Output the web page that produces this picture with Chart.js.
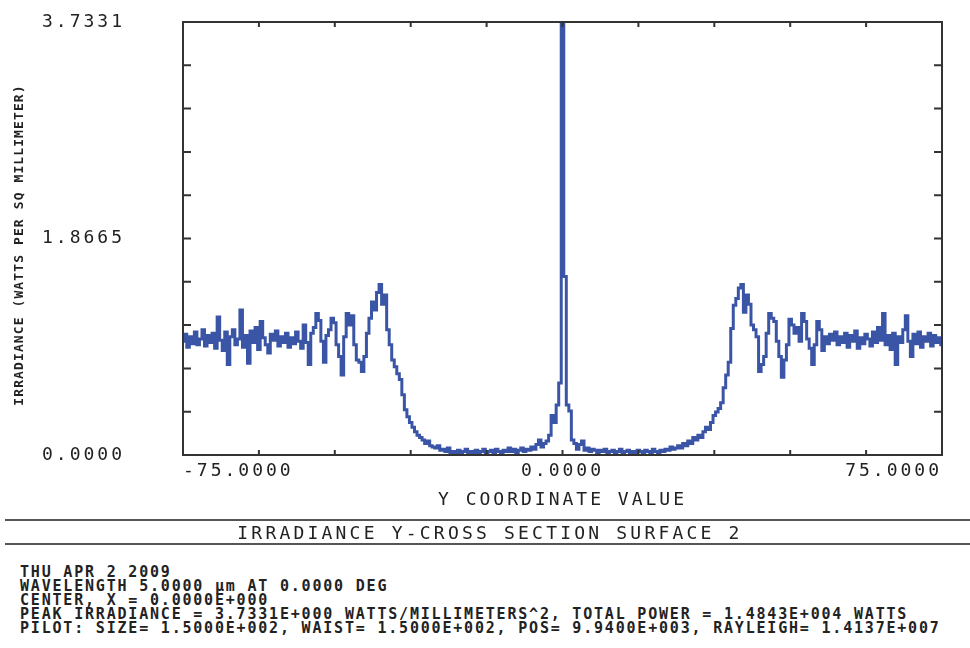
<!DOCTYPE html>
<html lang="en">
<head>
<meta charset="UTF-8">
<title>Irradiance Y-Cross Section</title>
<script src="https://cdn.jsdelivr.net/npm/chart.js"></script>
<style>
    body { margin: 0; background: #ffffff; width: 970px; height: 648px; overflow: hidden; position: relative; }
    #grafico { position: absolute; left: 0; top: 0; }
    .linha { position: absolute; left: 5px; right: 0; height: 2px; background: #555; }
    .titulo { position: absolute; left: 0; width: 980px; top: 522px; text-align: center;
        font: 18px "DejaVu Sans Mono"; letter-spacing: 3.2px; color: #222; line-height: 22px; }
    .info { position: absolute; left: 20px; top: 566px; font: bold 15px "DejaVu Sans Mono";
        letter-spacing: 1.8px; line-height: 13.9px; color: #222; white-space: pre; }
</style>
</head>
<body>
<canvas id="grafico" width="970" height="520"></canvas>
<div class="linha" style="top:519px"></div>
<div class="titulo">IRRADIANCE Y-CROSS SECTION SURFACE 2</div>
<div class="linha" style="top:543px"></div>
<div class="info">THU APR 2 2009
WAVELENGTH 5.0000 µm AT 0.0000 DEG
CENTER, X = 0.0000E+000
PEAK IRRADIANCE = 3.7331E+000 WATTS/MILLIMETERS^2, TOTAL POWER = 1.4843E+004 WATTS
PILOT: SIZE= 1.5000E+002, WAIST= 1.5000E+002, POS= 9.9400E+003, RAYLEIGH= 1.4137E+007</div>

<script>
    // y coordinate grid (mm)
    var xStart = -75;
    var xStep = 0.5;

    // irradiance, watts per sq mm
    var irradiance = [
        0.98, 1.04, 0.93, 1.02, 0.96, 1.06, 0.95, 1.00, 1.08, 0.94,
        1.03, 0.97, 1.05, 0.92, 1.19, 0.99, 0.90, 1.06, 0.78, 1.02,
        1.08, 0.95, 1.00, 1.25, 0.93, 1.03, 0.79, 1.07, 0.97, 1.10,
        0.91, 1.15, 1.01, 0.95, 0.88, 1.04, 0.99, 1.07, 0.94, 1.02,
        0.97, 1.05, 0.93, 1.01, 0.96, 1.06, 0.98, 0.92, 1.12, 0.97,
        0.78, 1.05, 1.10, 1.22, 1.16, 0.98, 0.80, 1.03, 1.08, 1.18,
        1.14, 0.95, 0.85, 0.69, 1.02, 1.22, 1.12, 1.20, 0.95, 0.82,
        0.80, 0.72, 0.85, 1.05, 1.18, 1.32, 1.25, 1.40, 1.47, 1.30,
        1.38, 1.08, 0.95, 0.82, 0.76, 0.70, 0.65, 0.52, 0.39, 0.33,
        0.28, 0.24, 0.20, 0.17, 0.15, 0.13, 0.10, 0.12, 0.08, 0.07,
        0.06, 0.08, 0.04, 0.05, 0.03, 0.06, 0.02, 0.03, 0.02, 0.04,
        0.02, 0.03, 0.05, 0.02, 0.03, 0.02, 0.04, 0.02, 0.03, 0.05,
        0.02, 0.03, 0.04, 0.02, 0.05, 0.03, 0.02, 0.04, 0.03, 0.06,
        0.03, 0.05, 0.02, 0.04, 0.06, 0.03, 0.05, 0.04, 0.07, 0.05,
        0.09, 0.13, 0.07, 0.10, 0.12, 0.17, 0.34, 0.28, 0.43, 0.62,
        3.7331, 1.54, 0.43, 0.38, 0.13, 0.10, 0.05, 0.09, 0.12, 0.04,
        0.06, 0.03, 0.05, 0.04, 0.02, 0.04, 0.03, 0.05, 0.02, 0.03,
        0.04, 0.02, 0.03, 0.05, 0.02, 0.03, 0.04, 0.02, 0.03, 0.02,
        0.04, 0.03, 0.02, 0.04, 0.03, 0.02, 0.05, 0.03, 0.02, 0.04,
        0.03, 0.05, 0.04, 0.07, 0.05, 0.06, 0.08, 0.06, 0.10, 0.08,
        0.12, 0.10, 0.15, 0.13, 0.17, 0.15, 0.20, 0.24, 0.22, 0.28,
        0.34, 0.37, 0.40, 0.45, 0.58, 0.69, 0.80, 1.09, 1.29, 1.35,
        1.44, 1.47, 1.23, 1.38, 1.30, 1.12, 1.08, 1.02, 0.72, 0.78,
        0.85, 1.05, 1.22, 1.18, 1.15, 0.98, 0.85, 0.67, 0.82, 0.95,
        1.17, 1.12, 1.05, 1.10, 0.98, 1.22, 1.15, 1.00, 0.92, 0.78,
        0.95, 1.15, 1.08, 0.90, 1.02, 0.96, 1.04, 0.99, 1.06, 0.95,
        1.02, 0.97, 1.05, 0.93, 1.03, 0.98, 1.07, 0.92, 1.01, 0.96,
        1.04, 1.00, 0.94, 1.06, 0.97, 1.10, 0.99, 1.22, 0.95, 1.03,
        0.91, 1.05, 0.78, 1.02, 0.97, 1.08, 1.20, 0.98, 0.85, 1.04,
        0.96, 1.06, 0.93, 1.02, 0.98, 1.05, 0.94, 1.03, 0.97, 1.01,
        0.95, 1.00
    ];

    var xTicks = [-75, 0, 75];
    var xTickLabels = ['-75.0000', '0.0000', '75.0000'];
    var yTicks = [0, 1.8665, 3.7331];
    var yTickLabels = ['0.0000', '1.8665', '3.7331'];
    var yMax = 3.7331;
    var xMinor = [-60, -45, -30, -15, 0, 15, 30, 45, 60];
    var yMinorCount = 10;

    var pontos = [];
    for (var i = 0; i < irradiance.length; i++) {
        pontos.push({ x: xStart + i * xStep, y: irradiance[i] });
    }

    var cor = '#333333';

    var moldura = {
        id: 'moldura',
        beforeDraw: function (chart) {
            chart.ctx.letterSpacing = '3px';
        },
        afterDraw: function (chart) {
            var ctx = chart.ctx;
            var a = chart.chartArea;
            var sx = chart.scales.x;
            var sy = chart.scales.y;
            ctx.save();
            ctx.letterSpacing = '0px';
            ctx.strokeStyle = cor;
            ctx.lineWidth = 2;
            ctx.strokeRect(a.left, a.top, a.right - a.left, a.bottom - a.top);

            ctx.beginPath();
            xMinor.forEach(function (v) {
                var px = sx.getPixelForValue(v);
                ctx.moveTo(px, a.bottom);
                ctx.lineTo(px, a.bottom - 5);
                ctx.moveTo(px, a.top);
                ctx.lineTo(px, a.top + 5);
            });
            for (var k = 1; k < yMinorCount; k++) {
                var py = sy.getPixelForValue(yMax * k / yMinorCount);
                ctx.moveTo(a.left, py);
                ctx.lineTo(a.left + 8, py);
                ctx.moveTo(a.right, py);
                ctx.lineTo(a.right - 8, py);
            }
            ctx.stroke();

            // titulo do eixo y
            ctx.translate(20, 245);
            ctx.rotate(-Math.PI / 2);
            ctx.letterSpacing = '1.1px';
            ctx.font = 'bold 13px "DejaVu Sans Mono"';
            ctx.fillStyle = '#222';
            ctx.textAlign = 'center';
            ctx.textBaseline = 'middle';
            ctx.fillText('IRRADIANCE (WATTS PER SQ MILLIMETER)', 0, 0);
            ctx.restore();
        }
    };

    var fonteEixo = { family: 'DejaVu Sans Mono', size: 18 };

    new Chart(document.getElementById('grafico'), {
        type: 'line',
        data: {
            datasets: [{
                data: pontos,
                borderColor: '#3b55a6',
                borderWidth: 3,
                pointRadius: 0,
                stepped: 'middle',
                fill: false
            }]
        },
        options: {
            responsive: false,
            animation: false,
            events: [],
            layout: { padding: { top: 22, right: 28, left: 0, bottom: 0 } },
            plugins: { legend: { display: false }, tooltip: { enabled: false } },
            scales: {
                x: {
                    type: 'linear',
                    min: -75,
                    max: 75,
                    border: { display: false },
                    grid: { display: false, drawTicks: false },
                    afterBuildTicks: function (scale) {
                        scale.ticks = xTicks.map(function (v) { return { value: v }; });
                    },
                    afterFit: function (scale) {
                        scale.height = 65;
                        scale.paddingLeft = 0;
                        scale.paddingRight = 0;
                    },
                    ticks: {
                        align: 'inner',
                        padding: 6,
                        maxRotation: 0,
                        autoSkip: false,
                        color: '#222',
                        font: fonteEixo,
                        callback: function (v, idx) { return xTickLabels[idx]; }
                    },
                    title: {
                        display: true,
                        text: 'Y COORDINATE VALUE',
                        color: '#222',
                        font: fonteEixo,
                        padding: { top: 0, bottom: 9 }
                    }
                },
                y: {
                    min: 0,
                    max: yMax,
                    border: { display: false },
                    grid: { display: false, drawTicks: false },
                    afterBuildTicks: function (scale) {
                        scale.ticks = yTicks.map(function (v) { return { value: v }; });
                    },
                    afterFit: function (scale) {
                        scale.width = 183;
                        scale.paddingTop = 0;
                        scale.paddingBottom = 0;
                    },
                    ticks: {
                        padding: 58,
                        autoSkip: false,
                        color: '#222',
                        font: fonteEixo,
                        callback: function (v, idx) { return yTickLabels[idx]; }
                    }
                }
            }
        },
        plugins: [moldura]
    });
</script>
</body>
</html>
